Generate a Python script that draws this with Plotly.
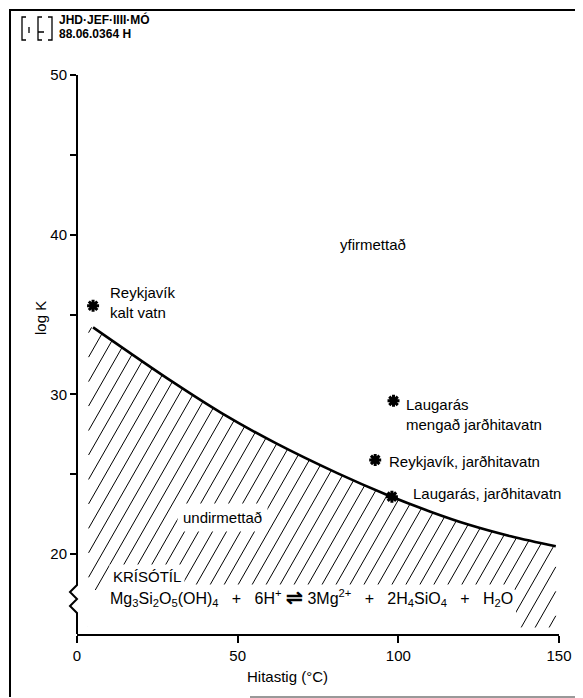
import numpy as np
import plotly.graph_objects as go

# ---------------- data ----------------
curve_temp = [5, 30, 45, 62, 81, 96, 110, 122, 135, 149]
curve_logk = [34.2, 30.75, 28.83, 26.93, 25.07, 23.75, 22.66, 21.84, 21.12, 20.49]

sample_labels = ["Reykjavík<br>kalt vatn", "Laugarás<br>mengað jarðhitavatn",
                 "Reykjavík, jarðhitavatn", "Laugarás, jarðhitavatn"]
sample_temp = [5.0, 98.5, 92.8, 98.0]
sample_logk = [35.55, 29.6, 25.9, 23.6]

x_tickvals = [0, 50, 100, 150]
y_tickvals = [20, 25, 30, 35, 40, 45, 50]
y_ticktext = ["20", "", "30", "", "40", "", "50"]

# ---------------- layout geometry ----------------
OFF = 8                      # page body margin of the html page
W, H = 583 - OFF, 698 - OFF
ML, MR, MT, MB = 77 - OFF, 24, 75 - OFF, 64
PW, PH = W - ML - MR, H - MT - MB
XR = [0, 150]
YR = [15, 50]


def px(x):  # screen px -> paper x
    return (x - OFF - ML) / PW


def py(y):  # screen px -> paper y
    return (H - MB - (y - OFF)) / PH


def ydat(p):
    return YR[1] - (p - OFF - MT) * (YR[1] - YR[0]) / PH


def xdat(p):
    return XR[0] + (p - OFF - ML) * (XR[1] - XR[0]) / PW


FONT = "Liberation Sans, Arial, Helvetica, sans-serif"

# ---------------- hatching derived from the curve ----------------
slope = 1.75 * (PW / 150) / (PH / 35)  # ~60 degree lines on screen
spacing = 4.35
x_left = 3.6
y_bot = 15.4
xs = np.linspace(x_left, curve_temp[-1], 4000)
cy = np.interp(xs, curve_temp, curve_logk)
ref_x = 7.8
ref_x0 = ref_x - (np.interp(ref_x, curve_temp, curve_logk) - 15) / slope
hx, hy = [], []
k0 = int(np.floor((ref_x0 + 80) / spacing))
for k in range(-k0, 60):
    x0 = ref_x0 + k * spacing
    ly = 15 + slope * (xs - x0)
    ok = (ly >= y_bot) & (ly <= cy)
    if ok.sum() < 2:
        continue
    idx = np.where(ok)[0]
    hx += [xs[idx[0]], xs[idx[-1]], None]
    hy += [ly[idx[0]], ly[idx[-1]], None]

fig = go.Figure()
fig.add_trace(go.Scatter(x=hx, y=hy, mode="lines",
                         line=dict(color="black", width=1), hoverinfo="skip",
                         showlegend=False))
fig.add_trace(go.Scatter(x=curve_temp, y=curve_logk, mode="lines",
                         line=dict(color="black", width=2.6, shape="spline", smoothing=1.0),
                         showlegend=False))
fig.add_trace(go.Scatter(x=sample_temp, y=sample_logk, mode="markers",
                         marker=dict(symbol="asterisk", size=10, color="black",
                                     line=dict(color="black", width=3)),
                         cliponaxis=False, showlegend=False))

shapes = []
# mask under the reaction text
shapes.append(dict(type="rect", xref="x", yref="y", x0=x_left - 0.2, x1=xdat(516),
                   y0=15.15, y1=ydat(590), fillcolor="white", line=dict(width=0),
                   layer="above"))
# y axis with break
zig = [(-7, 592), (0, 599), (-7, 606), (0, 613)]
path = f"M {px(77)} {YR[1]} L {px(77)} {ydat(585)}"
for dx, p in zig:
    path += f" L {px(77 + dx)} {ydat(p)}"
path += f" L {px(77)} {YR[0]}"
shapes.append(dict(type="path", xref="paper", yref="y", path=path,
                   line=dict(color="black", width=2)))
# outer frame (left, top, right black; bottom faint and partial)
frame = (f"M {px(10)} {py(697)} L {px(10)} {py(10)} L {px(581)} {py(10)} "
         f"L {px(581)} {py(697)}")
shapes.append(dict(type="path", xref="paper", yref="paper", path=frame,
                   line=dict(color="black", width=2)))
shapes.append(dict(type="line", xref="paper", yref="paper", x0=px(250), x1=px(581),
                   y0=py(697), y1=py(697), line=dict(color="#777777", width=1.5)))
# logo
logo = (f"M {px(26)} {py(17)} L {px(22)} {py(17)} L {px(22)} {py(40)} L {px(26)} {py(40)} "
        f"M {px(42)} {py(17)} L {px(38)} {py(17)} L {px(38)} {py(40)} L {px(42)} {py(40)} "
        f"M {px(38)} {py(32)} L {px(44)} {py(32)} "
        f"M {px(48)} {py(17)} L {px(52)} {py(17)} L {px(52)} {py(40)} L {px(48)} {py(40)} "
        f"M {px(29)} {py(27)} L {px(29)} {py(33)}")
shapes.append(dict(type="path", xref="paper", yref="paper", path=logo,
                   line=dict(color="black", width=1.3)))

ann = []


def add(text, x, y, xanchor="left", size=15, **kw):
    d = dict(text=text, x=px(x), y=py(y), xref="paper", yref="paper",
             xanchor=xanchor, yanchor="middle", showarrow=False, align="left",
             font=dict(family=FONT, size=size, color="black"))
    d.update(kw)
    ann.append(d)


NB = "\u00a0"
add("<b>JHD·JEF·IIII·MÓ</b>", 57, 20, size=12)
add("<b>88.06.0364" + NB + "H</b>", 57, 34, size=12)
add(sample_labels[0], 108, 302)
add(sample_labels[1], 404, 414)
add(sample_labels[2], 387, 461)
add(sample_labels[3], 411, 493)
add("yfirmettað", 373, 244, xanchor="center")
add("undirmettað", 222, 517, xanchor="center", bgcolor="white", borderpad=5)
sp = NB * 3
eq = ("Mg<sub>3</sub>Si<sub>2</sub>O<sub>5</sub>(OH)<sub>4</sub>" + sp + "+" + sp +
      "6H<sup>+</sup>" + NB + "<span style='font-size:20px'><b>⇌</b></span>" + NB +
      "3Mg<sup>2+</sup>" + sp + "+" + sp + "2H<sub>4</sub>SiO<sub>4</sub>" + sp + "+" + sp +
      "H<sub>2</sub>O")
add(eq, 108, 597, size=16, bgcolor="white", borderpad=1)
add("KRÍSÓTÍL", 109, 576, bgcolor="white", borderpad=3)
add("Hitastig (°C)", 287, 676, xanchor="center")
add("log K", 40, 318, xanchor="center", textangle=-90)

fig.update_layout(
    width=W, height=H,
    margin=dict(l=ML, r=MR, t=MT, b=MB, pad=0),
    paper_bgcolor="white", plot_bgcolor="white",
    font=dict(family=FONT, size=15, color="black"),
    showlegend=False,
    xaxis=dict(range=XR, tickvals=x_tickvals, ticks="outside", ticklen=7, tickwidth=1.5,
               tickcolor="black", showline=True, linecolor="black", linewidth=2,
               showgrid=False, zeroline=False, tickfont=dict(size=15)),
    yaxis=dict(range=YR, tickvals=y_tickvals, ticktext=y_ticktext, ticks="outside",
               ticklen=6, tickwidth=1.5, tickcolor="black", showline=False,
               showgrid=False, zeroline=False, tickfont=dict(size=15)),
    shapes=shapes, annotations=ann,
)

fig.write_html("out.html")
